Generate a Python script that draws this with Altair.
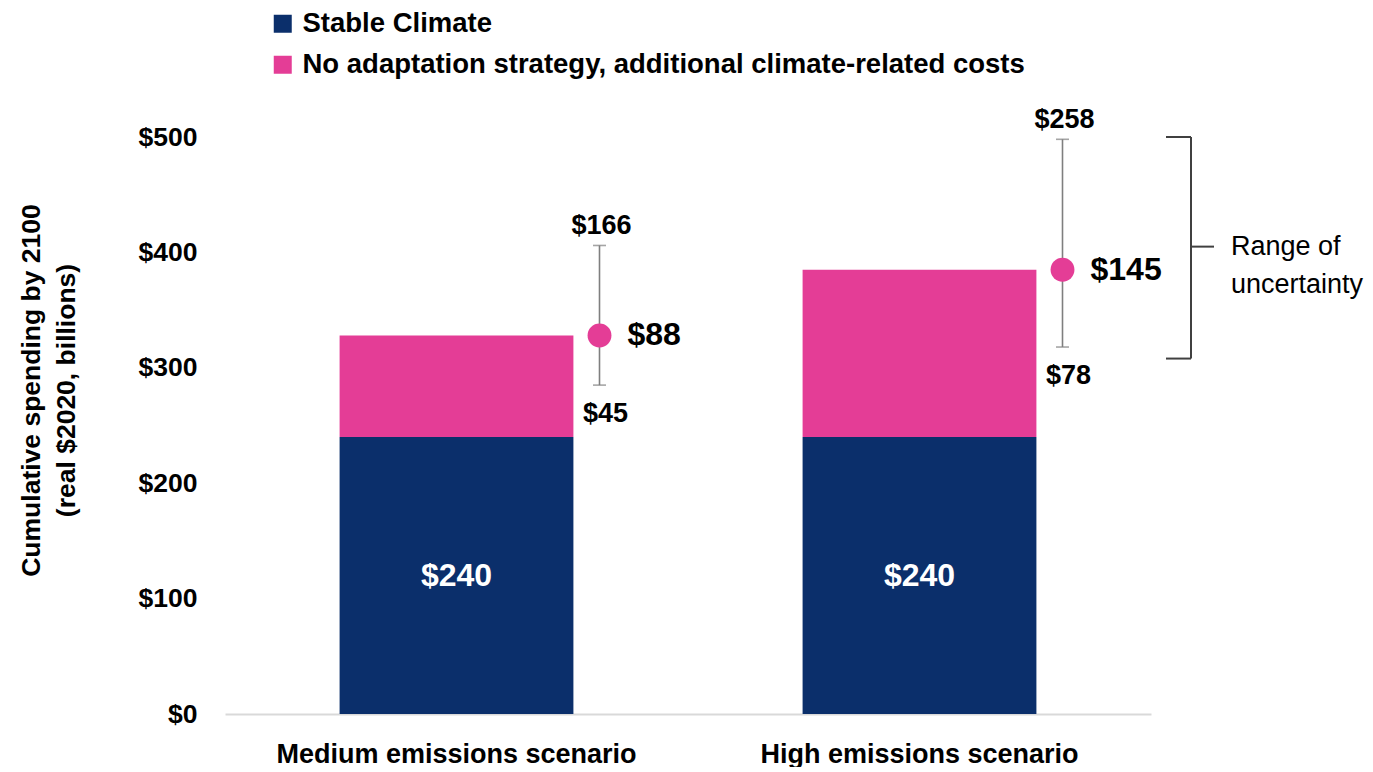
import altair as alt
import pandas as pd

# ---- data ----
scenarios = ["Medium emissions scenario", "High emissions scenario"]
series = ["Stable Climate", "No adaptation strategy, additional climate-related costs"]
stable_climate = [240, 240]
additional_cost = [88, 145]
range_low = [45, 78]
range_high = [166, 258]
y_ticks = [0, 100, 200, 300, 400, 500]
bracket_top = 500
bracket_mid = 405
bracket_bottom = 308
bracket_text = ["Range of", "uncertainty"]

NAVY = "#0B2F6B"
PINK = "#E43D96"
FONT = "Liberation Sans"

bars = []
for s, a, b in zip(scenarios, stable_climate, additional_cost):
    bars.append({"scenario": s, "series": series[0], "value": a, "order": 0})
    bars.append({"scenario": s, "series": series[1], "value": b, "order": 1})
bars_df = pd.DataFrame(bars)

err_df = pd.DataFrame({
    "scenario": scenarios,
    "base": stable_climate,
    "add": additional_cost,
    "low": range_low,
    "high": range_high,
})
err_df["total"] = err_df["base"] + err_df["add"]
err_df["lo"] = err_df["base"] + err_df["low"]
err_df["hi"] = err_df["base"] + err_df["high"]
err_df["base_mid"] = err_df["base"] / 2
err_df["add_lbl"] = err_df["add"].map(lambda v: f"${v}")
err_df["lo_lbl"] = err_df["low"].map(lambda v: f"${v}")
err_df["hi_lbl"] = err_df["high"].map(lambda v: f"${v}")
err_df["base_lbl"] = err_df["base"].map(lambda v: f"${v}")

x_enc = alt.X(
    "scenario:N",
    sort=scenarios,
    scale=alt.Scale(paddingInner=0.495, paddingOuter=0.2475),
    axis=alt.Axis(
        title=None, labelAngle=0, labelFont=FONT, labelFontSize=27,
        labelFontWeight="bold", labelColor="black", labelPadding=27,
        labelLimit=1000, domainColor="#d9d9d9", domainWidth=2, ticks=False,
    ),
)
y_scale = alt.Scale(domain=[0, 500], nice=False)

bar_layer = alt.Chart(bars_df).mark_bar().encode(
    x=x_enc,
    y=alt.Y(
        "value:Q", stack="zero", scale=y_scale,
        axis=alt.Axis(
            values=y_ticks, labelExpr="'$' + datum.value", grid=False,
            domain=False, ticks=False, labelFont=FONT, labelFontSize=26.5,
            labelFontWeight="bold", labelColor="black", labelPadding=28,
            title=["Cumulative spending by 2100", "(real $2020, billions)"],
            titleFont=FONT, titleFontSize=26.5, titleFontWeight="bold",
            titleColor="black", titleLineHeight=35, titleAngle=-90,
            titleX=-194, titleY=253, titleAlign="center", titleBaseline="middle",
        ),
    ),
    color=alt.Color(
        "series:N",
        scale=alt.Scale(domain=series, range=[NAVY, PINK]),
        legend=alt.Legend(
            title=None, orient="none", legendX=44, legendY=-127,
            symbolType="square", symbolSize=324, symbolStrokeWidth=0,
            labelFont=FONT, labelFontSize=27.5, labelFontWeight="bold",
            labelColor="black", rowPadding=12, labelLimit=1000, symbolOffset=0,
            labelOffset=6, padding=0,
        ),
    ),
    order=alt.Order("order:Q"),
)

base = alt.Chart(err_df).encode(x=alt.X("scenario:N", sort=scenarios))

rule = base.mark_rule(color="#7F7F7F", strokeWidth=1.6, xOffset=143).encode(
    y=alt.Y("lo:Q", scale=y_scale), y2="hi:Q"
)
caps_hi = base.mark_tick(color="#7F7F7F", thickness=1.6, size=13, xOffset=143).encode(
    y=alt.Y("hi:Q", scale=y_scale)
)
caps_lo = base.mark_tick(color="#7F7F7F", thickness=1.6, size=13, xOffset=143).encode(
    y=alt.Y("lo:Q", scale=y_scale)
)
dot = base.mark_circle(color=PINK, opacity=1, size=570, xOffset=143).encode(
    y=alt.Y("total:Q", scale=y_scale)
)
add_lbl = base.mark_text(
    font=FONT, fontSize=32, fontWeight="bold", color="black", align="left",
    baseline="middle", xOffset=171,
).encode(y=alt.Y("total:Q", scale=y_scale), text="add_lbl:N")
hi_lbl = base.mark_text(
    font=FONT, fontSize=27, fontWeight="bold", color="black", align="center",
    baseline="middle", xOffset=145, yOffset=-19,
).encode(y=alt.Y("hi:Q", scale=y_scale), text="hi_lbl:N")
lo_lbl = base.mark_text(
    font=FONT, fontSize=27, fontWeight="bold", color="black", align="center",
    baseline="middle", xOffset=149, yOffset=29,
).encode(y=alt.Y("lo:Q", scale=y_scale), text="lo_lbl:N")
base_lbl = base.mark_text(
    font=FONT, fontSize=32, fontWeight="bold", color="white", align="center",
    baseline="middle",
).encode(y=alt.Y("base_mid:Q", scale=y_scale), text="base_lbl:N")

# bracket ("Range of uncertainty")
br_df = pd.DataFrame({"top": [bracket_top], "mid": [bracket_mid], "bot": [bracket_bottom],
                      "txt": [bracket_text]})
br = alt.Chart(br_df)
BR_COL = "#404040"
br_top = br.mark_rule(color=BR_COL, strokeWidth=2).encode(
    x=alt.value(941), x2=alt.value(966), y=alt.Y("top:Q", scale=y_scale))
br_bot = br.mark_rule(color=BR_COL, strokeWidth=2).encode(
    x=alt.value(941), x2=alt.value(966), y=alt.Y("bot:Q", scale=y_scale))
br_vert = br.mark_rule(color=BR_COL, strokeWidth=2).encode(
    x=alt.value(966), y=alt.Y("top:Q", scale=y_scale), y2="bot:Q")
br_tip = br.mark_rule(color=BR_COL, strokeWidth=2).encode(
    x=alt.value(966), x2=alt.value(989), y=alt.Y("mid:Q", scale=y_scale))
br_txt = br.mark_text(
    font=FONT, fontSize=27, color="black", align="left", baseline="middle",
    lineHeight=38,
).encode(x=alt.value(1006), y=alt.Y("mid:Q", scale=y_scale), text="txt")

chart = alt.layer(
    bar_layer, rule, caps_hi, caps_lo, dot, add_lbl, hi_lbl, lo_lbl, base_lbl,
    br_top, br_bot, br_vert, br_tip, br_txt,
).properties(
    width=926, height=577, padding={"left": 9, "top": 2, "right": 0, "bottom": 0},
).configure_view(stroke=None)

chart.save("out.html", embed_options={"renderer": "svg", "actions": False})
